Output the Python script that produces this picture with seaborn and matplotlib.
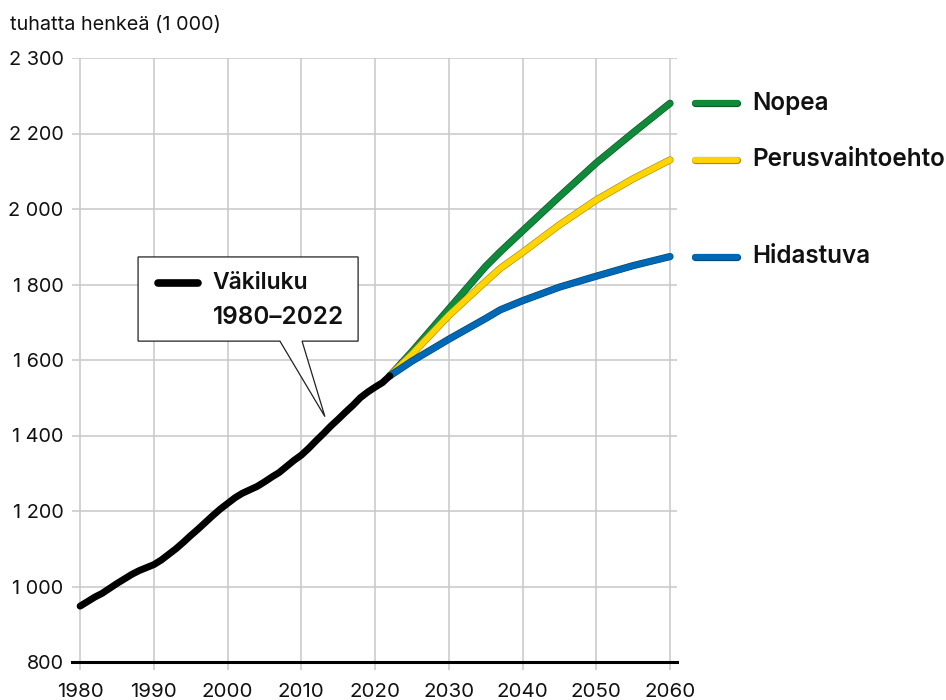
import numpy as np
import pandas as pd
import seaborn as sns
import matplotlib.pyplot as plt
import matplotlib.patheffects as pe
from matplotlib.patches import Polygon

sns.set_theme(style="white")
plt.rcParams['font.family'] = ['Inter', 'DejaVu Sans']

# observed population (thousands)
hist_years = list(range(1980, 2023))
hist_pop = [948, 960, 972, 982, 995, 1008, 1020, 1032, 1042, 1050,
            1058, 1070, 1085, 1100, 1117, 1135, 1152, 1170, 1188, 1205,
            1220, 1235, 1247, 1256, 1265, 1277, 1290, 1302, 1318, 1334,
            1348, 1366, 1386, 1405, 1425, 1443, 1462, 1480, 1500, 1515,
            1528, 1540, 1558]

# projections
proj_years = [2022, 2025, 2030, 2035, 2037, 2040, 2045, 2050, 2055, 2060]
nopea = [1558, 1622, 1735, 1848, 1887, 1942, 2033, 2122, 2202, 2280]
perus = [1558, 1615, 1718, 1808, 1843, 1885, 1958, 2024, 2080, 2130]
hidas = [1558, 1597, 1655, 1710, 1733, 1757, 1793, 1822, 1850, 1874]

series = [("Nopea", nopea, "#0e8a3a", "#0a5a26"),
          ("Perusvaihtoehto", perus, "#ffd400", "#a88e00"),
          ("Hidastuva", hidas, "#0068b4", "#00477c")]

yticks = [800, 1000, 1200, 1400, 1600, 1800, 2000, 2200, 2400]
ytick_labels = ["800", "1 000", "1 200", "1 400", "1 600", "1 800", "2 000", "2 200", "2 300"]
xticks = list(range(1980, 2061, 10))

grid_col = "#c8c8c8"

fig = plt.figure(figsize=(9.46, 7.0), dpi=100)
ax = fig.add_axes([72 / 946, 38 / 700, 605 / 946, 604 / 700])

for name, vals, col, edge in series:
    df = pd.DataFrame({"year": proj_years, "value": vals})
    sns.lineplot(data=df, x="year", y="value", ax=ax, color=col, lw=4.3,
                 solid_capstyle="round", solid_joinstyle="round", zorder=3,
                 path_effects=[pe.Stroke(linewidth=5.2, foreground=edge), pe.Normal()])
    # right-side label
    ax.plot([2063.4, 2069.1], [vals[-1], vals[-1]], color=col, lw=4.3,
            solid_capstyle="round", clip_on=False,
            path_effects=[pe.Stroke(linewidth=5.2, foreground=edge), pe.Normal()])
    ax.text(2071.1, vals[-1], name, fontsize=17.5, fontweight="semibold",
            va="center", ha="left", color="#111111", clip_on=False)

hist = pd.DataFrame({"year": hist_years, "value": hist_pop})
sns.lineplot(data=hist, x="year", y="value", ax=ax, color="black", lw=5,
             solid_capstyle="round", solid_joinstyle="round", zorder=4)

# callout box
box = Polygon([(1987.86, 1873), (2017.7, 1873), (2017.7, 1650),
               (2010.1, 1650), (2013.2, 1450), (2007.1, 1650),
               (1987.86, 1650)], closed=True, facecolor="white",
              edgecolor="#222222", lw=0.9, zorder=2.5)
ax.add_patch(box)
ax.plot([1990.6, 1996.0], [1805, 1805], color="black", lw=5.5,
        solid_capstyle="round", zorder=2.6)
ax.text(1998.0, 1805, "Väkiluku", fontsize=16.5, fontweight="semibold",
        va="center", ha="left", color="#111111", zorder=2.6)
ax.text(1998.0, 1712, "1980–2022", fontsize=17.5, fontweight="semibold",
        va="center", ha="left", color="#111111", zorder=2.6)

ax.set_xlim(1978.9, 2060.95)
ax.set_ylim(800, 2400)
ax.set_yticks(yticks)
ax.set_yticklabels(ytick_labels)
ax.set_xticks(xticks)
ax.set_xticklabels([str(x) for x in xticks])
ax.grid(True, color=grid_col, lw=1.1)
ax.tick_params(axis="y", length=0, pad=6, labelsize=14.3, labelcolor="#111111")
ax.tick_params(axis="x", length=6, width=1.1, color=grid_col, pad=9,
               labelsize=14.8, labelcolor="#111111", bottom=True)
for s in ["top", "right", "left"]:
    ax.spines[s].set_visible(False)
ax.spines["bottom"].set_color("black")
ax.spines["bottom"].set_linewidth(2.2)
ax.spines["bottom"].set_zorder(5)
ax.set_xlabel("")
ax.set_ylabel("")

fig.text(10 / 946, 1 - 25 / 700, "tuhatta henkeä (1 000)", fontsize=14.3,
         va="center", ha="left", color="#111111")

fig.savefig("out.png", dpi=100)
